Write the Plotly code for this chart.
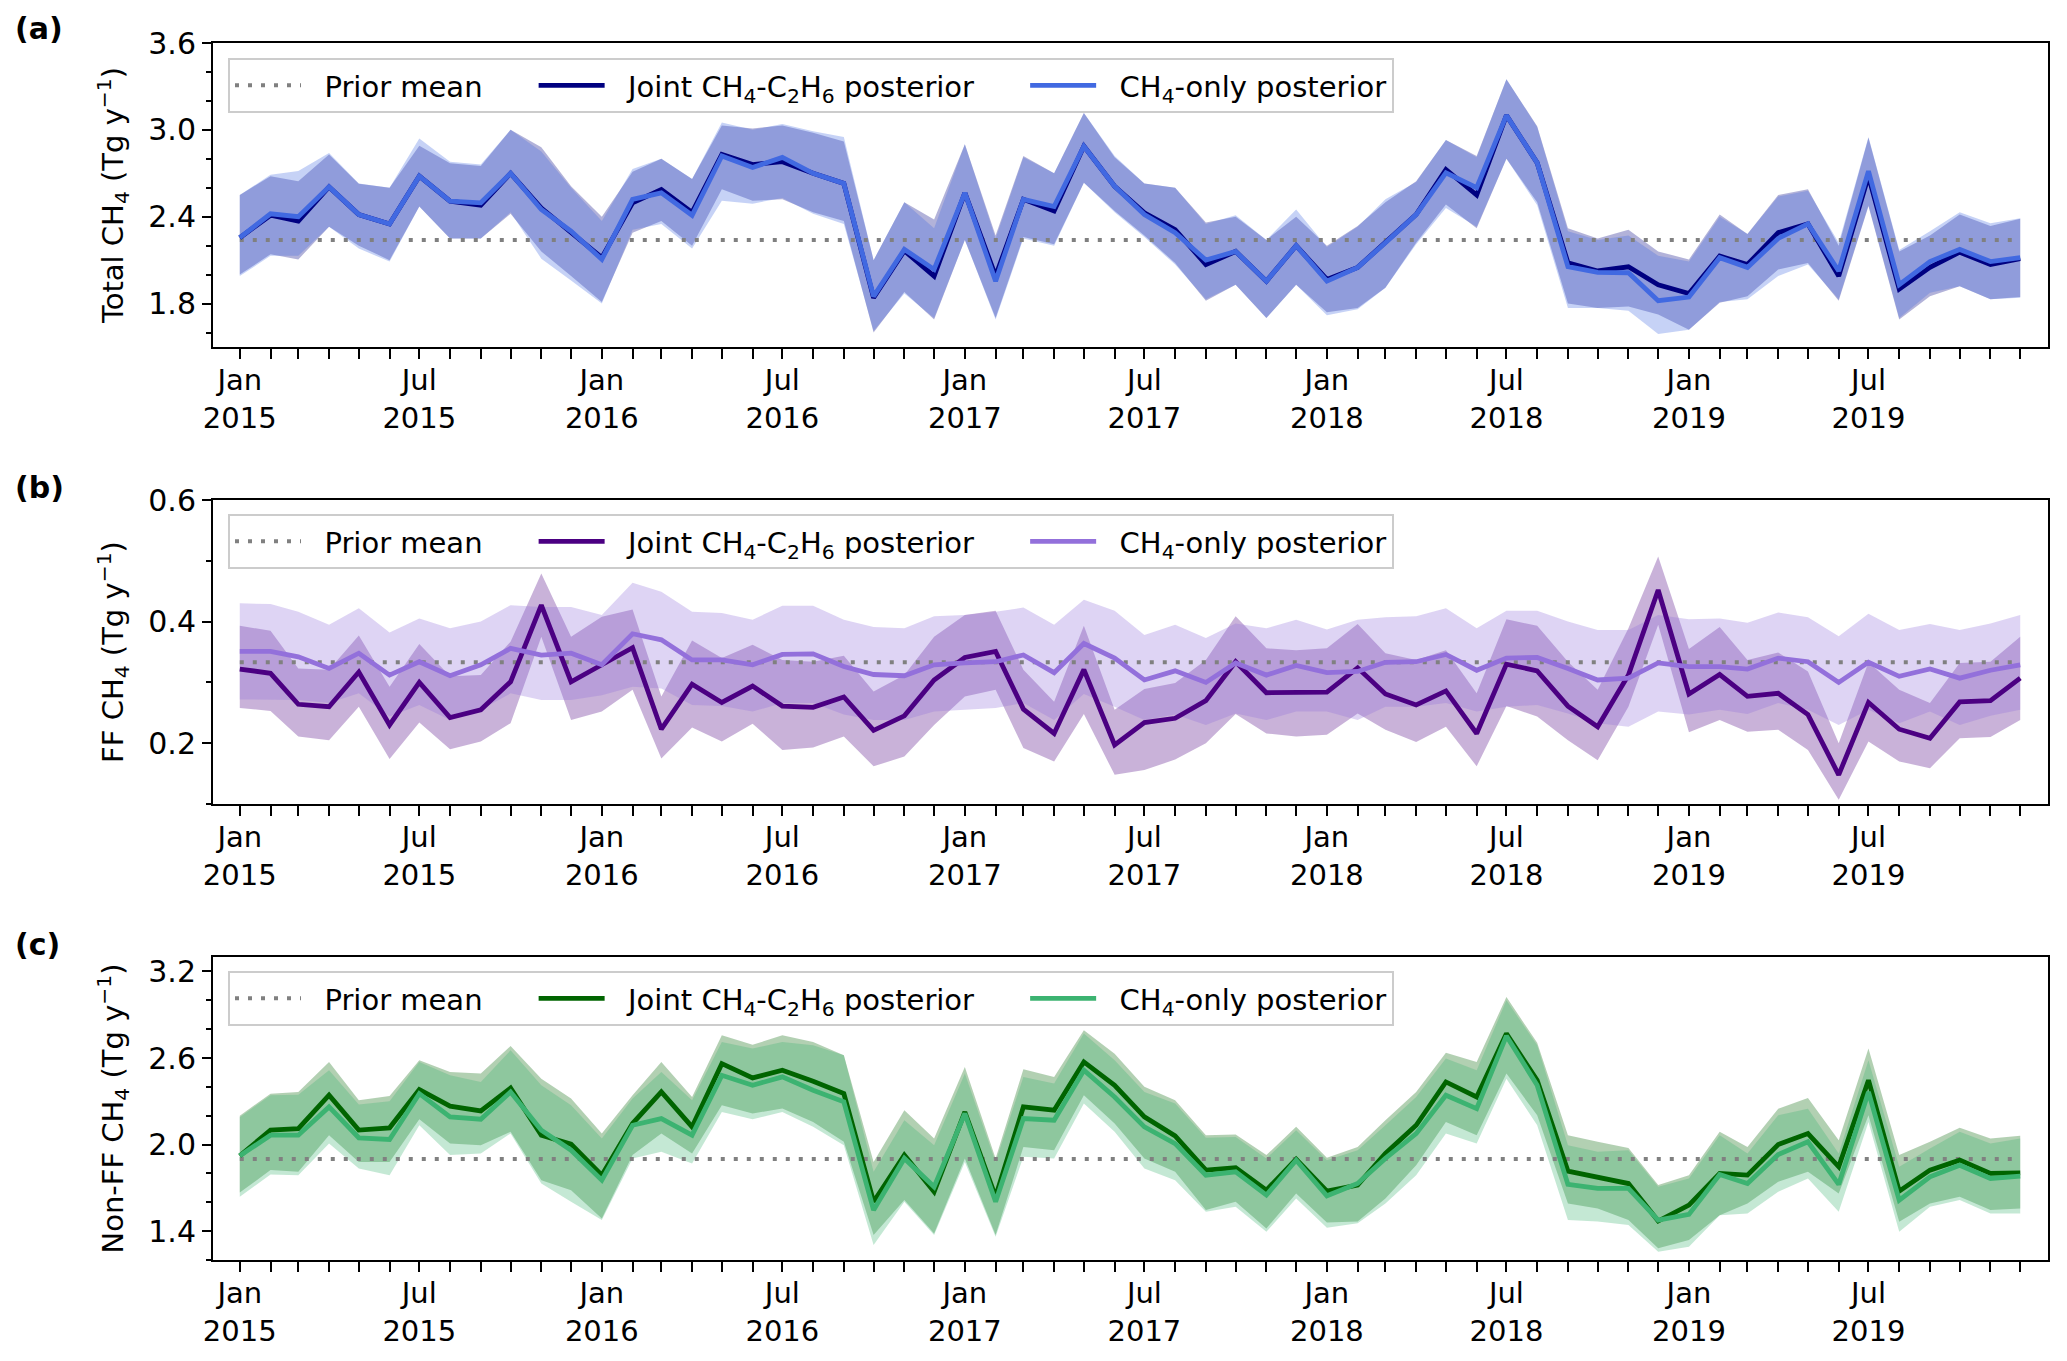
import plotly.graph_objects as go

# ---------------- data ----------------
months = [f"{y}-{m:02d}-01" for y in range(2015, 2020) for m in range(1, 13)]

tick_dates = [f"{y}-{m:02d}-01" for y in range(2015, 2020) for m in (1, 7)]
tick_text = [f"{'Jan' if m == 1 else 'Jul'}<br>{y}" for y in range(2015, 2020) for m in (1, 7)]

# Panel (a) Total CH4
a_joint = [2.255, 2.41, 2.37, 2.606, 2.415, 2.35, 2.68, 2.507, 2.48, 2.70,
           2.46, 2.29, 2.117, 2.496, 2.588, 2.43, 2.83, 2.76, 2.78, 2.70,
           2.63, 1.84, 2.165, 1.99, 2.565, 1.99, 2.52, 2.44, 2.887, 2.61,
           2.427, 2.31, 2.07, 2.16, 1.955, 2.20, 1.967, 2.05, 2.22, 2.415,
           2.726, 2.55, 3.10, 2.772, 2.082, 2.025, 2.054, 1.93, 1.87, 2.128,
           2.07, 2.29, 2.35, 1.99, 2.68, 1.90, 2.05, 2.155, 2.07, 2.11]
a_only = [2.255, 2.42, 2.40, 2.606, 2.415, 2.35, 2.68, 2.507, 2.496, 2.70,
          2.45, 2.30, 2.105, 2.52, 2.565, 2.41, 2.82, 2.74, 2.81, 2.70,
          2.63, 1.85, 2.174, 2.036, 2.565, 1.955, 2.52, 2.47, 2.887, 2.61,
          2.415, 2.29, 2.10, 2.16, 1.955, 2.20, 1.955, 2.05, 2.22, 2.415,
          2.703, 2.60, 3.10, 2.772, 2.055, 2.015, 2.013, 1.82, 1.845, 2.117,
          2.05, 2.25, 2.35, 2.025, 2.715, 1.93, 2.09, 2.174, 2.09, 2.117]
a_joint_hi = [2.55, 2.68, 2.645, 2.83, 2.627, 2.60, 2.89, 2.77, 2.75, 3.0,
              2.88, 2.61, 2.40, 2.71, 2.80, 2.66, 3.03, 3.01, 3.03, 2.98,
              2.92, 2.10, 2.50, 2.38, 2.90, 2.27, 2.82, 2.70, 3.117, 2.81,
              2.63, 2.60, 2.36, 2.40, 2.24, 2.40, 2.20, 2.335, 2.50, 2.645,
              2.93, 2.82, 3.35, 3.025, 2.32, 2.25, 2.31, 2.16, 2.105, 2.415,
              2.28, 2.55, 2.59, 2.20, 2.945, 2.16, 2.27, 2.415, 2.335, 2.386]
a_joint_lo = [2.00, 2.14, 2.105, 2.33, 2.20, 2.10, 2.47, 2.25, 2.25, 2.42,
              2.16, 1.99, 1.81, 2.29, 2.37, 2.20, 2.59, 2.51, 2.52, 2.43,
              2.37, 1.60, 1.88, 1.69, 2.24, 1.70, 2.26, 2.21, 2.634, 2.44,
              2.27, 2.08, 1.82, 1.93, 1.70, 1.93, 1.74, 1.77, 1.91, 2.22,
              2.485, 2.32, 2.80, 2.50, 1.80, 1.77, 1.78, 1.725, 1.62, 1.806,
              1.85, 2.036, 2.08, 1.82, 2.473, 1.69, 1.85, 1.92, 1.83, 1.845]
a_only_hi = [2.55, 2.69, 2.715, 2.84, 2.63, 2.60, 2.94, 2.78, 2.76, 3.0,
             2.85, 2.60, 2.37, 2.73, 2.80, 2.66, 3.05, 3.00, 3.04, 2.99,
             2.95, 2.10, 2.50, 2.32, 2.90, 2.25, 2.81, 2.70, 3.117, 2.82,
             2.63, 2.60, 2.35, 2.41, 2.24, 2.45, 2.19, 2.33, 2.52, 2.64,
             2.93, 2.81, 3.35, 3.02, 2.30, 2.24, 2.27, 2.13, 2.09, 2.40,
             2.28, 2.54, 2.58, 2.22, 2.95, 2.17, 2.30, 2.43, 2.355, 2.39]
a_only_lo = [1.99, 2.13, 2.13, 2.33, 2.18, 2.09, 2.47, 2.25, 2.25, 2.43,
             2.11, 1.96, 1.80, 2.31, 2.35, 2.18, 2.51, 2.49, 2.53, 2.42,
             2.35, 1.61, 1.87, 1.70, 2.24, 1.69, 2.25, 2.20, 2.634, 2.43,
             2.26, 2.07, 1.83, 1.93, 1.70, 1.93, 1.72, 1.76, 1.91, 2.21,
             2.46, 2.33, 2.80, 2.48, 1.77, 1.77, 1.75, 1.59, 1.62, 1.81,
             1.83, 1.99, 2.07, 1.83, 2.48, 1.70, 1.875, 1.92, 1.83, 1.84]
a_prior = 2.24

# Panel (b) FF CH4
b_joint = [0.322, 0.315, 0.264, 0.260, 0.317, 0.230, 0.300, 0.242, 0.255, 0.301,
           0.427, 0.301, 0.329, 0.357, 0.223, 0.297, 0.267, 0.294, 0.261, 0.259,
           0.276, 0.221, 0.245, 0.304, 0.341, 0.351, 0.256, 0.216, 0.321, 0.197,
           0.234, 0.241, 0.270, 0.334, 0.283, 0.284, 0.284, 0.324, 0.281, 0.263,
           0.286, 0.216, 0.330, 0.319, 0.261, 0.227, 0.312, 0.452, 0.281, 0.313,
           0.277, 0.282, 0.247, 0.148, 0.267, 0.223, 0.208, 0.268, 0.270, 0.307]
b_only = [0.351, 0.351, 0.342, 0.323, 0.348, 0.312, 0.334, 0.311, 0.329, 0.356,
          0.345, 0.348, 0.329, 0.380, 0.370, 0.337, 0.337, 0.329, 0.346, 0.347,
          0.326, 0.313, 0.311, 0.329, 0.332, 0.334, 0.345, 0.316, 0.364, 0.340,
          0.304, 0.319, 0.300, 0.332, 0.312, 0.328, 0.316, 0.318, 0.333, 0.334,
          0.346, 0.320, 0.340, 0.341, 0.323, 0.304, 0.307, 0.332, 0.326, 0.326,
          0.322, 0.340, 0.334, 0.300, 0.333, 0.310, 0.322, 0.307, 0.320, 0.329]
b_joint_hi = [0.393, 0.385, 0.323, 0.321, 0.377, 0.293, 0.363, 0.310, 0.312, 0.367,
              0.479, 0.375, 0.408, 0.420, 0.277, 0.369, 0.340, 0.362, 0.337, 0.334,
              0.344, 0.285, 0.312, 0.375, 0.411, 0.418, 0.321, 0.268, 0.393, 0.255,
              0.289, 0.299, 0.337, 0.409, 0.356, 0.353, 0.356, 0.396, 0.348, 0.337,
              0.353, 0.282, 0.404, 0.393, 0.334, 0.288, 0.389, 0.507, 0.355, 0.391,
              0.337, 0.349, 0.318, 0.200, 0.333, 0.288, 0.266, 0.332, 0.334, 0.375]
b_joint_lo = [0.258, 0.253, 0.211, 0.205, 0.260, 0.174, 0.234, 0.190, 0.203, 0.233,
              0.375, 0.238, 0.252, 0.288, 0.175, 0.226, 0.203, 0.232, 0.189, 0.193,
              0.211, 0.162, 0.178, 0.230, 0.277, 0.288, 0.192, 0.170, 0.248, 0.148,
              0.156, 0.173, 0.200, 0.248, 0.216, 0.211, 0.214, 0.249, 0.222, 0.202,
              0.227, 0.162, 0.261, 0.244, 0.205, 0.172, 0.260, 0.395, 0.218, 0.238,
              0.219, 0.222, 0.189, 0.107, 0.203, 0.170, 0.159, 0.208, 0.210, 0.238]
b_only_hi = [0.430, 0.429, 0.416, 0.395, 0.422, 0.382, 0.405, 0.389, 0.400, 0.427,
             0.424, 0.424, 0.411, 0.464, 0.449, 0.416, 0.414, 0.403, 0.426, 0.426,
             0.403, 0.391, 0.389, 0.409, 0.411, 0.416, 0.423, 0.395, 0.436, 0.418,
             0.378, 0.395, 0.373, 0.397, 0.389, 0.403, 0.387, 0.403, 0.407, 0.409,
             0.422, 0.389, 0.418, 0.418, 0.400, 0.386, 0.386, 0.411, 0.404, 0.405,
             0.398, 0.415, 0.407, 0.376, 0.413, 0.386, 0.396, 0.386, 0.397, 0.411]
b_only_lo = [0.272, 0.271, 0.271, 0.266, 0.282, 0.244, 0.263, 0.238, 0.255, 0.282,
             0.271, 0.271, 0.279, 0.293, 0.290, 0.263, 0.261, 0.252, 0.266, 0.266,
             0.247, 0.238, 0.238, 0.252, 0.255, 0.258, 0.266, 0.238, 0.281, 0.260,
             0.238, 0.247, 0.230, 0.249, 0.238, 0.252, 0.252, 0.238, 0.260, 0.260,
             0.266, 0.252, 0.260, 0.263, 0.249, 0.233, 0.227, 0.252, 0.247, 0.255,
             0.248, 0.266, 0.255, 0.230, 0.255, 0.233, 0.252, 0.230, 0.245, 0.255]
b_prior = 0.333

# Panel (c) Non-FF CH4
c_joint = [1.922, 2.100, 2.111, 2.342, 2.100, 2.116, 2.381, 2.266, 2.233, 2.392,
           2.065, 2.003, 1.788, 2.146, 2.365, 2.123, 2.561, 2.462, 2.515, 2.439,
           2.353, 1.604, 1.927, 1.673, 2.226, 1.638, 2.261, 2.238, 2.573, 2.411,
           2.192, 2.060, 1.823, 1.839, 1.684, 1.899, 1.677, 1.719, 1.938, 2.134,
           2.434, 2.330, 2.769, 2.446, 1.816, 1.776, 1.730, 1.470, 1.580, 1.800,
           1.788, 2.000, 2.076, 1.846, 2.446, 1.677, 1.823, 1.892, 1.800, 1.804]
c_only = [1.922, 2.065, 2.065, 2.261, 2.047, 2.035, 2.353, 2.192, 2.176, 2.365,
          2.100, 1.961, 1.753, 2.134, 2.180, 2.065, 2.480, 2.411, 2.469, 2.377,
          2.296, 1.546, 1.904, 1.707, 2.215, 1.604, 2.180, 2.169, 2.515, 2.330,
          2.123, 2.007, 1.788, 1.811, 1.650, 1.892, 1.645, 1.730, 1.904, 2.076,
          2.342, 2.249, 2.753, 2.411, 1.724, 1.696, 1.696, 1.477, 1.516, 1.793,
          1.730, 1.931, 2.019, 1.724, 2.365, 1.615, 1.776, 1.857, 1.765, 1.781]
c_joint_hi = [2.200, 2.353, 2.365, 2.573, 2.307, 2.337, 2.584, 2.503, 2.492, 2.683,
              2.457, 2.319, 2.076, 2.342, 2.573, 2.330, 2.757, 2.692, 2.757, 2.711,
              2.619, 1.880, 2.238, 2.042, 2.538, 1.904, 2.522, 2.469, 2.792, 2.630,
              2.400, 2.307, 2.065, 2.069, 1.927, 2.123, 1.908, 1.984, 2.169, 2.365,
              2.637, 2.573, 3.022, 2.706, 2.065, 2.019, 1.977, 1.719, 1.788, 2.088,
              1.984, 2.249, 2.323, 2.030, 2.665, 1.927, 2.019, 2.116, 2.042, 2.062]
c_joint_lo = [1.668, 1.823, 1.811, 2.065, 1.880, 1.880, 2.176, 2.007, 1.996, 2.088,
              1.753, 1.684, 1.488, 1.927, 2.076, 1.938, 2.273, 2.215, 2.250, 2.157,
              2.019, 1.373, 1.615, 1.384, 1.904, 1.373, 1.984, 1.961, 2.342, 2.146,
              1.904, 1.811, 1.546, 1.604, 1.419, 1.661, 1.460, 1.466, 1.627, 1.857,
              2.157, 2.065, 2.492, 2.203, 1.592, 1.557, 1.477, 1.281, 1.338, 1.511,
              1.592, 1.742, 1.811, 1.661, 2.203, 1.465, 1.592, 1.638, 1.546, 1.557]
c_only_hi = [2.190, 2.342, 2.346, 2.515, 2.277, 2.300, 2.573, 2.480, 2.434, 2.653,
             2.411, 2.273, 2.042, 2.319, 2.503, 2.307, 2.711, 2.665, 2.711, 2.688,
             2.619, 1.811, 2.169, 1.996, 2.492, 1.880, 2.469, 2.423, 2.769, 2.584,
             2.365, 2.284, 2.047, 2.053, 1.904, 2.100, 1.892, 1.961, 2.134, 2.330,
             2.596, 2.515, 3.000, 2.688, 1.996, 1.950, 1.961, 1.707, 1.765, 2.065,
             1.938, 2.203, 2.249, 1.938, 2.584, 1.846, 1.973, 2.088, 2.007, 2.042]
c_only_lo = [1.638, 1.793, 1.788, 2.007, 1.834, 1.788, 2.134, 1.927, 1.938, 2.077,
             1.730, 1.604, 1.477, 1.904, 1.950, 1.869, 2.226, 2.176, 2.226, 2.123,
             1.996, 1.304, 1.604, 1.373, 1.880, 1.361, 1.915, 1.904, 2.284, 2.088,
             1.834, 1.753, 1.534, 1.569, 1.396, 1.627, 1.424, 1.454, 1.592, 1.788,
             2.076, 2.007, 2.457, 2.134, 1.477, 1.466, 1.442, 1.258, 1.292, 1.511,
             1.523, 1.673, 1.765, 1.534, 2.157, 1.396, 1.569, 1.615, 1.523, 1.523]
c_prior = 1.90

NB = "\u00a0"
legend_names = [NB * 2 + "Prior mean" + NB * 5,
                NB * 2 + "Joint CH<sub>4</sub>-C<sub>2</sub>H<sub>6</sub> posterior" + NB * 5,
                NB * 2 + "CH<sub>4</sub>-only posterior"]
y_titles = ["Total CH<sub>4</sub> (Tg y<sup>−1</sup>)",
            "FF CH<sub>4</sub> (Tg y<sup>−1</sup>)",
            "Non-FF CH<sub>4</sub> (Tg y<sup>−1</sup>)"]
panel_labels = ["(a)", "(b)", "(c)"]

# ---------------- styling ----------------
FONT = "DejaVu Sans"
W, H = 2067, 1361
x_dom = [213 / W, 2048 / W]
y_doms = [[1 - 347 / H, 1 - 43 / H], [1 - 804 / H, 1 - 500 / H], [1 - 1260 / H, 1 - 957 / H]]
legend_tops = [1 - 58 / H, 1 - 514 / H, 1 - 971 / H]
label_ys = [1 - 29 / H, 1 - 487 / H, 1 - 944 / H]

panels = [
    dict(joint=a_joint, only=a_only, jhi=a_joint_hi, jlo=a_joint_lo, ohi=a_only_hi, olo=a_only_lo,
         prior=a_prior, cj="#000080", co="#4169e1",
         fj="rgba(0,0,128,0.30)", fo="rgba(65,105,225,0.30)",
         yrange=[1.5, 3.6], yticks=[1.8, 2.4, 3.0, 3.6], minor=0.2, minor0=1.6),
    dict(joint=b_joint, only=b_only, jhi=b_joint_hi, jlo=b_joint_lo, ohi=b_only_hi, olo=b_only_lo,
         prior=b_prior, cj="#4b0082", co="#9370db",
         fj="rgba(75,0,130,0.30)", fo="rgba(147,112,219,0.30)",
         yrange=[0.1, 0.6], yticks=[0.2, 0.4, 0.6], minor=0.1, minor0=0.1),
    dict(joint=c_joint, only=c_only, jhi=c_joint_hi, jlo=c_joint_lo, ohi=c_only_hi, olo=c_only_lo,
         prior=c_prior, cj="#006400", co="#3cb371",
         fj="rgba(0,100,0,0.30)", fo="rgba(60,179,113,0.30)",
         yrange=[1.2, 3.3], yticks=[1.4, 2.0, 2.6, 3.2], minor=0.2, minor0=1.2),
]

fig = go.Figure()
layout = dict(
    width=W, height=H,
    margin=dict(l=0, r=0, t=0, b=0, autoexpand=False),
    paper_bgcolor="white", plot_bgcolor="white",
    font=dict(family=FONT, size=29, color="black"),
    showlegend=True,
    annotations=[],
)

for i, p in enumerate(panels):
    sfx = "" if i == 0 else str(i + 1)
    xa, ya = "x" + sfx, "y" + sfx
    lg = "legend" + sfx
    band_x = months + months[::-1]
    fig.add_trace(go.Scatter(x=band_x, y=p["jhi"] + p["jlo"][::-1], fill="toself",
                             fillcolor=p["fj"], line=dict(width=0), mode="lines",
                             showlegend=False, hoverinfo="skip", xaxis=xa, yaxis=ya))
    fig.add_trace(go.Scatter(x=band_x, y=p["ohi"] + p["olo"][::-1], fill="toself",
                             fillcolor=p["fo"], line=dict(width=0), mode="lines",
                             showlegend=False, hoverinfo="skip", xaxis=xa, yaxis=ya))
    fig.add_trace(go.Scatter(x=months, y=[p["prior"]] * len(months), mode="lines",
                             line=dict(color="#808080", width=4, dash="4px,9px"),
                             name=legend_names[0], legend=lg, xaxis=xa, yaxis=ya))
    fig.add_trace(go.Scatter(x=months, y=p["joint"], mode="lines",
                             line=dict(color=p["cj"], width=4.8),
                             name=legend_names[1], legend=lg, xaxis=xa, yaxis=ya))
    fig.add_trace(go.Scatter(x=months, y=p["only"], mode="lines",
                             line=dict(color=p["co"], width=4.8),
                             name=legend_names[2], legend=lg, xaxis=xa, yaxis=ya))

    layout["xaxis" + sfx] = dict(
        domain=x_dom, anchor=ya, type="date", automargin=False,
        range=["2014-12-05", "2019-12-29"],
        tickmode="array", tickvals=tick_dates, ticktext=tick_text,
        ticks="outside", ticklen=10, tickwidth=2, tickcolor="black",
        ticklabelstandoff=-4,
        minor=dict(ticks="outside", dtick="M1", tick0="2015-01-01", ticklen=10,
                   tickwidth=2, tickcolor="black", showgrid=False),
        showline=True, linecolor="black", linewidth=2, mirror=True,
        showgrid=False, zeroline=False,
        tickfont=dict(family=FONT, size=29, color="black"),
    )
    layout["yaxis" + sfx] = dict(
        domain=y_doms[i], anchor=xa, range=p["yrange"], automargin=False,
        tickmode="array", tickvals=p["yticks"], tickformat=".1f",
        ticks="outside", ticklen=9, tickwidth=2, tickcolor="black",
        minor=dict(ticks="outside", dtick=p["minor"], tick0=p["minor0"], ticklen=5,
                   tickwidth=2, tickcolor="black", showgrid=False),
        showline=True, linecolor="black", linewidth=2, mirror=True,
        showgrid=False, zeroline=False,
        tickfont=dict(family=FONT, size=30, color="black"),
        title=dict(text=y_titles[i], font=dict(family=FONT, size=29, color="black"), standoff=16),
    )
    layout[lg] = dict(
        orientation="h", x=228 / W, xanchor="left", y=legend_tops[i], yanchor="top",
        bgcolor="white", bordercolor="#cccccc", borderwidth=2,
        font=dict(family=FONT, size=29, color="black"),
        itemwidth=66, traceorder="normal",
    )
    layout["annotations"].append(dict(
        text=f"<b>{panel_labels[i]}</b>", xref="paper", yref="paper",
        x=13 / W, y=label_ys[i], xanchor="left", yanchor="middle",
        showarrow=False, font=dict(family=FONT, size=30, color="black")))

fig.update_layout(**layout)
fig.write_html("out.html", config={"displayModeBar": False},
               post_script="document.body.style.margin='0px';")
